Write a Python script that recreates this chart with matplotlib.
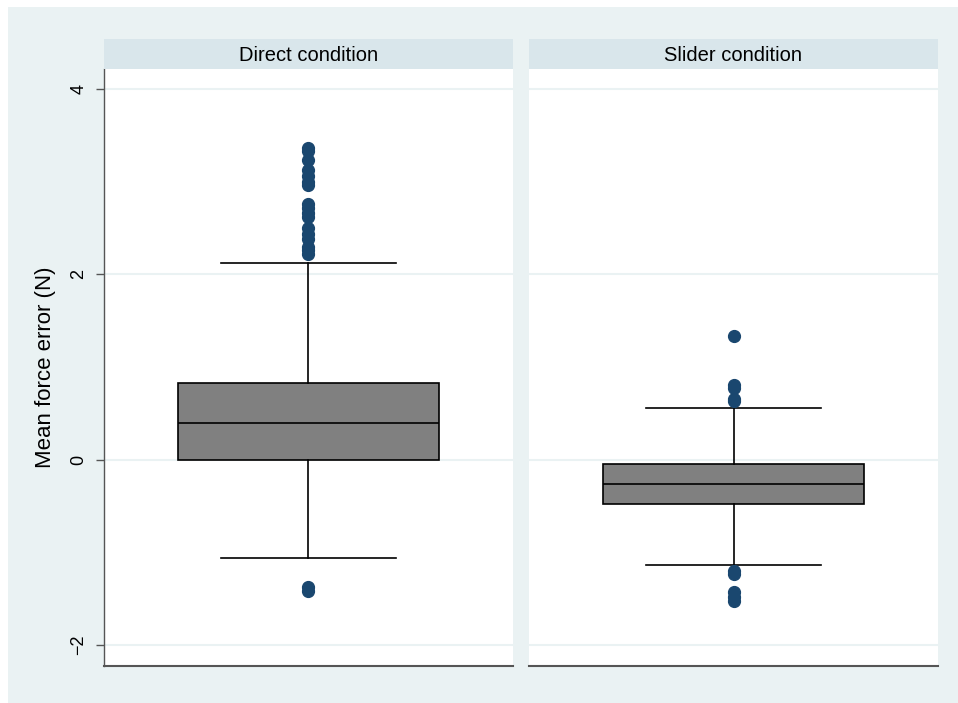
import matplotlib
matplotlib.use('Agg')
import matplotlib.pyplot as plt
from matplotlib.patches import Rectangle

plt.rcParams['font.family'] = ['Liberation Sans', 'DejaVu Sans']

panels = ['Direct condition', 'Slider condition']

# box statistics
medians = [0.40, -0.26]
q1 = [0.00, -0.48]
q3 = [0.83, -0.05]
whisk_lo = [-1.06, -1.14]
whisk_hi = [2.12, 0.56]
outliers = [
    [3.36, 3.33, 3.23, 3.13, 3.06, 3.00, 2.96, 2.76, 2.72, 2.66, 2.62,
     2.50, 2.44, 2.38, 2.30, 2.26, 2.22, -1.37, -1.42],
    [1.33, 0.81, 0.77, 0.66, 0.63, -1.20, -1.23, -1.43, -1.48, -1.52],
]
yticks = [-2, 0, 2, 4]

bg = '#eaf2f3'
strip = '#d9e6eb'
navy = '#1a476f'

W, H = 958, 703
fig = plt.figure(figsize=(W / 100, H / 100), dpi=100)
fig.patch.set_facecolor('white')
fig.patches.append(Rectangle((8 / W, 0), 1, 1 - 7 / H, transform=fig.transFigure,
                             facecolor=bg, edgecolor='none', zorder=-10))

lefts = [104, 529]
pw = 409
top, bot = 69, 666

for i, name in enumerate(panels):
    ax = fig.add_axes([lefts[i] / W, 1 - bot / H, pw / W, (bot - top) / H])
    ax.set_facecolor('white')
    stats = [dict(med=medians[i], q1=q1[i], q3=q3[i], whislo=whisk_lo[i],
                  whishi=whisk_hi[i], fliers=outliers[i])]
    ax.bxp(stats, positions=[0.5], widths=0.64, patch_artist=True,
           boxprops=dict(facecolor='#808080', edgecolor='black', linewidth=1.2),
           medianprops=dict(color='black', linewidth=1.2),
           whiskerprops=dict(color='black', linewidth=1.2),
           capprops=dict(color='black', linewidth=1.2),
           capwidths=0.43,
           flierprops=dict(marker='o', markerfacecolor=navy, markeredgecolor=navy,
                           markersize=8.5))
    ax.set_xlim(0, 1)
    ax.set_ylim(-2.226, 4.216)
    ax.set_xticks([])
    ax.set_yticks(yticks)
    ax.grid(axis='y', color=bg, linewidth=1.5)
    ax.set_axisbelow(True)
    for s in ['top', 'right']:
        ax.spines[s].set_visible(False)
    ax.spines['bottom'].set_color('#555555')
    ax.spines['bottom'].set_linewidth(1.5)
    if i == 0:
        ax.spines['left'].set_color('#555555')
        ax.spines['left'].set_linewidth(1.0)
        ax.tick_params(axis='y', length=6, width=1.0, color='#555555', pad=6,
                       labelsize=13)
        for lab in ax.get_yticklabels():
            lab.set_rotation(90)
            lab.set_va('center')
        ax.set_ylabel('Mean force error (N)', fontsize=16, labelpad=10)
    else:
        ax.spines['left'].set_visible(False)
        ax.tick_params(axis='y', length=0, labelleft=False)

    sax = fig.add_axes([lefts[i] / W, 1 - top / H, pw / W, 30 / H])
    sax.set_facecolor(strip)
    sax.set_xticks([])
    sax.set_yticks([])
    for s in sax.spines.values():
        s.set_visible(False)
    sax.text(0.5, 0.45, name, ha='center', va='center', fontsize=14.5,
             transform=sax.transAxes)

fig.savefig('out.png', dpi=100, facecolor='white')
